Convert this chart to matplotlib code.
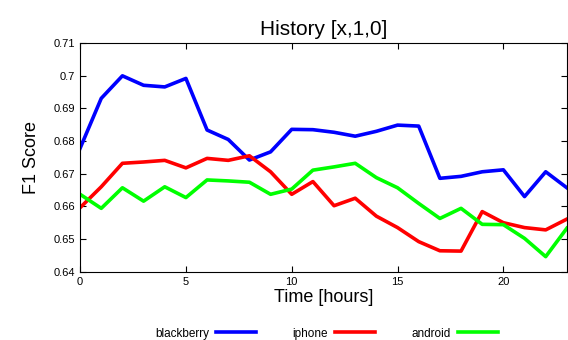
import matplotlib.pyplot as plt

# 시간 (hours)
hours = list(range(24))

blackberry = [0.6778, 0.6931, 0.7000, 0.6971, 0.6966, 0.6992, 0.6834, 0.6805,
              0.6742, 0.6767, 0.6836, 0.6835, 0.6827, 0.6815, 0.6830, 0.6849,
              0.6846, 0.6686, 0.6692, 0.6706, 0.6712, 0.6630, 0.6706, 0.6657]
iphone = [0.6596, 0.6660, 0.6732, 0.6736, 0.6741, 0.6718, 0.6747, 0.6741,
          0.6755, 0.6706, 0.6637, 0.6676, 0.6602, 0.6625, 0.6570, 0.6535,
          0.6492, 0.6464, 0.6463, 0.6584, 0.6550, 0.6535, 0.6528, 0.6561]
android = [0.6637, 0.6594, 0.6657, 0.6616, 0.6660, 0.6627, 0.6681, 0.6678,
           0.6674, 0.6637, 0.6653, 0.6711, 0.6721, 0.6732, 0.6688, 0.6657,
           0.6609, 0.6563, 0.6594, 0.6545, 0.6544, 0.6502, 0.6446, 0.6533]

plt.rcParams['font.family'] = ['Liberation Sans', 'DejaVu Sans']

fig = plt.figure(figsize=(5.68, 3.40), dpi=100)
ax = fig.add_axes([0.141, 0.201, 0.857, 0.672])

ax.plot(hours, blackberry, color='#0000ff', lw=2.6, label='blackberry')
ax.plot(hours, iphone, color='#ff0000', lw=2.6, label='iphone')
ax.plot(hours, android, color='#00ff00', lw=2.6, label='android')

ax.set_xlim(0, 23)
ax.set_ylim(0.64, 0.71)
ax.set_xticks([0, 5, 10, 15, 20])
ax.set_yticks([0.64, 0.65, 0.66, 0.67, 0.68, 0.69, 0.70, 0.71])
ax.set_yticklabels(['0.64', '0.65', '0.66', '0.67', '0.68', '0.69', '0.7', '0.71'])
ax.tick_params(direction='in', top=True, right=True, labelsize=8, length=4)

ax.set_title('History [x,1,0]', fontsize=15, pad=6)
ax.set_xlabel('Time [hours]', fontsize=13, labelpad=2)
ax.set_ylabel('F1 Score', fontsize=13, labelpad=10)

# 범례 (아래쪽, 텍스트 다음에 선)
fig.legend(loc='lower center', bbox_to_anchor=(0.575, -0.03), ncol=3,
           markerfirst=False, frameon=False, fontsize=8.5,
           handlelength=3.4, columnspacing=3.1, handletextpad=0.6)

plt.savefig('out.png', dpi=100)
